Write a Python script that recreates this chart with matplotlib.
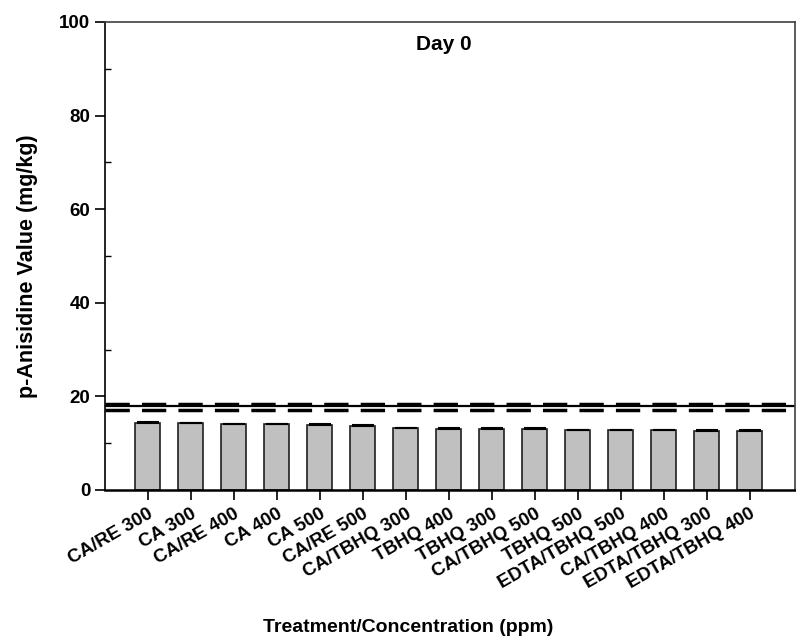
import numpy as np
import matplotlib
matplotlib.use("Agg")
import matplotlib.pyplot as plt

plt.rcParams['font.family'] = ['Liberation Sans', 'DejaVu Sans']
plt.rcParams['font.weight'] = 'bold'

treatments = ["CA/RE 300", "CA 300", "CA/RE 400", "CA 400", "CA 500", "CA/RE 500",
              "CA/TBHQ 300", "TBHQ 400", "TBHQ 300", "CA/TBHQ 500", "TBHQ 500",
              "EDTA/TBHQ 500", "CA/TBHQ 400", "EDTA/TBHQ 300", "EDTA/TBHQ 400"]
means = [14.38, 14.25, 14.04, 14.04, 13.95, 13.74, 13.18, 13.10, 13.03, 13.03,
         12.88, 12.76, 12.76, 12.67, 12.67]
sd = [0.12, 0.05, 0.05, 0.12, 0.08, 0.10, 0.04, 0.10, 0.12, 0.12,
      0.04, 0.04, 0.12, 0.04, 0.04]

# control reference (mean and bounds)
control_mean = 18.0
control_upper = 18.27
control_lower = 17.18

fig = plt.figure(figsize=(7.96, 6.41), dpi=100)
ax = fig.add_axes([0.1319, 0.2356, 0.8668, 0.7301])

x = np.arange(len(treatments))
ax.bar(x, means, width=0.58, color="#c0c0c0", edgecolor="#202020", linewidth=1.2, zorder=2)
ax.errorbar(x, means, yerr=[np.zeros(len(sd)), sd], fmt="none", ecolor="black",
            elinewidth=1.0, capsize=8, capthick=1.5, zorder=3)

ax.axhline(control_mean, color="black", linewidth=1.6, zorder=1)
ax.axhline(control_upper, color="black", linewidth=2.5, linestyle=(0, (7, 3.5)), zorder=1)
ax.axhline(control_lower, color="black", linewidth=2.5, linestyle=(0, (7, 3.5)), zorder=1)

ax.set_xlim(-0.99, 15.05)
ax.set_ylim(0, 100)
ax.set_yticks([0, 20, 40, 60, 80, 100])
ax.set_yticks([10, 30, 50, 70, 90], minor=True)
ax.tick_params(axis="y", which="major", direction="out", length=7, width=1.2, labelsize=13.5)
ax.tick_params(axis="y", which="minor", direction="in", length=4, width=1.0)
ax.set_xticks(x)
ax.set_xticklabels(treatments, rotation=30, ha="right", rotation_mode="anchor", fontsize=13.5)
ax.tick_params(axis="x", direction="out", length=7, width=1.2, pad=4)

for side in ["left", "top", "right"]:
    ax.spines[side].set_linewidth(1.2)
ax.spines["bottom"].set_linewidth(1.8)
ax.spines["top"].set_color("#404040")
ax.spines["right"].set_color("#404040")

ax.text(443.5 / 796, 1 - 44 / 641, "Day 0", transform=fig.transFigure, ha="center",
        va="center", fontsize=15, fontweight="bold")

fig.text(408 / 796, 1 - 627 / 641, "Treatment/Concentration (ppm)", ha="center", va="center",
         fontsize=14, fontweight="bold")
fig.text(28 / 796, 1 - 266 / 641, "p-Anisidine Value (mg/kg)", ha="center", va="center",
         rotation=90, fontsize=15.5, fontweight="bold")

fig.savefig("out.png", dpi=100)
